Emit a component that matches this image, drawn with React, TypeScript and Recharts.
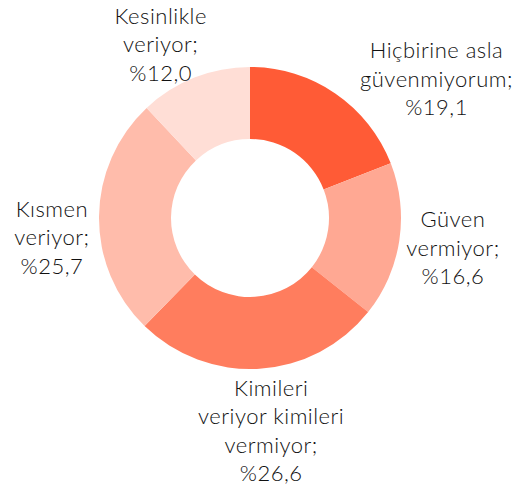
import { PieChart, Pie, Cell } from "recharts";

const categories = [
  ["Hiçbirine asla", "güvenmiyorum;"],
  ["Güven", "vermiyor;"],
  ["Kimileri", "veriyor kimileri", "vermiyor;"],
  ["Kısmen", "veriyor;"],
  ["Kesinlikle", "veriyor;"],
];
const shares = [19.1, 16.6, 26.6, 25.7, 12.0];

const COLORS = ["#ff5b36", "#ffa893", "#ff7d5e", "#ffbcab", "#ffded6"];

// label placement relative to slice mid-angle: extra distance past the rim, angular shift (deg, ccw)
const LABEL_LAYOUT = [
  { gap: 82, shift: -18.8 },
  { gap: 54, shift: 0.5 },
  { gap: 62, shift: 2.1 },
  { gap: 48, shift: 6 },
  { gap: 45, shift: 5.5 },
];

const LINE_HEIGHT = 28.5;
const RAD = Math.PI / 180;

const rows = categories.map((lines, i) => ({
  name: lines.join(" "),
  lines,
  value: shares[i],
}));

function SliceLabel(props: any) {
  const { cx, cy, midAngle, outerRadius, index } = props;
  const row = rows[index];
  const layout = LABEL_LAYOUT[index];
  const angle = (midAngle + layout.shift) * RAD;
  const r = outerRadius + layout.gap;
  const x = cx + r * Math.cos(angle);
  const y = cy - r * Math.sin(angle);
  const lines = [...row.lines, "%" + row.value.toFixed(1).replace(".", ",")];
  const top = y - ((lines.length - 1) / 2) * LINE_HEIGHT;
  return (
    <text
      x={x}
      y={top}
      textAnchor="middle"
      fill="#111"
      fontSize={22}
      fontWeight={300}
      letterSpacing={0.5}
      fontFamily="Lato, 'Open Sans', sans-serif"
    >
      {lines.map((line, i) => (
        <tspan key={i} x={x} y={top + i * LINE_HEIGHT} dominantBaseline="central">
          {line}
        </tspan>
      ))}
    </text>
  );
}

export default function App() {
  return (
    <div style={{ position: "absolute", left: 0, top: 0, width: 523, height: 491, background: "#fff" }}>
      <PieChart width={523} height={491} margin={{ top: 0, right: 0, bottom: 0, left: 0 }}>
        <Pie
          data={rows}
          dataKey="value"
          nameKey="name"
          cx={250}
          cy={218}
          innerRadius={79}
          outerRadius={151}
          startAngle={90}
          endAngle={-270}
          stroke="none"
          label={SliceLabel}
          labelLine={false}
          isAnimationActive={false}
        >
          {rows.map((row, i) => (
            <Cell key={row.name} fill={COLORS[i]} />
          ))}
        </Pie>
      </PieChart>
    </div>
  );
}
